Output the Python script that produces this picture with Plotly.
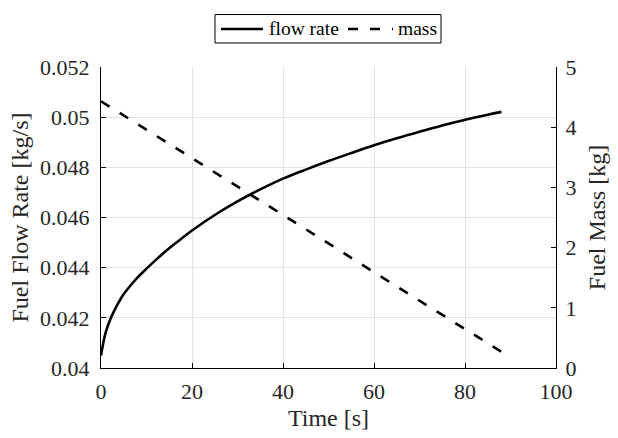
import plotly.graph_objects as go

# Flow rate (kg/s) vs time (s)
t_flow = [0, 1, 2, 3, 4, 5, 6, 8, 10, 12, 14, 16, 18, 20, 25, 30, 35, 40, 45,
          50, 55, 60, 65, 70, 75, 80, 85, 88]
flow = [0.04050, 0.04140, 0.04192, 0.04232, 0.04266, 0.04295, 0.04318, 0.04360,
        0.04396, 0.04430, 0.04462, 0.04492, 0.04520, 0.04548, 0.04610, 0.04664,
        0.04712, 0.04755, 0.04791, 0.04825, 0.04857, 0.04888, 0.04916, 0.04942,
        0.04967, 0.04990, 0.05010, 0.05021]

# Fuel mass (kg) vs time (s)
t_mass = [0, 10, 20, 30, 40, 50, 60, 70, 80, 88]
mass = [4.43, 3.96, 3.49, 3.01, 2.54, 2.07, 1.59, 1.12, 0.65, 0.27]

x_ticks = [0, 20, 40, 60, 80, 100]
y1_ticks = [0.04, 0.042, 0.044, 0.046, 0.048, 0.05, 0.052]
y1_labels = ["0.04", "0.042", "0.044", "0.046", "0.048", "0.05", "0.052"]
y2_ticks = [0, 1, 2, 3, 4, 5]

legend_names = ["flow rate", "mass"]

FONT = "Liberation Serif, Times New Roman, serif"
TICKC = "#262626"
W, H = 618, 438
ML, MR, MT, MB = 101, 62, 67, 64
PW, PH = W - ML - MR, H - MT - MB


def px(x):
    return (x - ML) / PW


def py(y):
    return (H - MB - y) / PH


fig = go.Figure()
fig.add_trace(go.Scatter(x=t_flow, y=flow, mode="lines", name=legend_names[0],
                         line=dict(color="black", width=2.6, shape="spline", smoothing=1.0),
                         yaxis="y", showlegend=False))
fig.add_trace(go.Scatter(x=t_mass, y=mass, mode="lines", name=legend_names[1],
                         line=dict(color="black", width=2.6, dash="10px,12px"),
                         yaxis="y2", showlegend=False))

axis_common = dict(showline=True, linecolor="black", linewidth=1,
                   ticks="inside", ticklen=5, tickcolor="black",
                   tickfont=dict(family=FONT, size=22, color=TICKC),
                   zeroline=False, mirror=False)

# custom legend (box, line samples, labels)
shapes = [
    dict(type="rect", xref="paper", yref="paper", x0=px(215), x1=px(441), y0=py(42.5), y1=py(13.5),
         line=dict(color="black", width=1), fillcolor="white"),
    dict(type="line", xref="paper", yref="paper", x0=px(221), x1=px(263), y0=py(28.3), y1=py(28.3),
         line=dict(color="black", width=2.6)),
    dict(type="line", xref="paper", yref="paper", x0=px(348), x1=px(393), y0=py(28.3), y1=py(28.3),
         line=dict(color="black", width=2.6, dash="10px,12px")),
]
annotations = [
    dict(text=legend_names[0], xref="paper", yref="paper", x=px(267), y=py(28), xanchor="left",
         yanchor="middle", showarrow=False, font=dict(family=FONT, size=19.5, color="black")),
    dict(text=legend_names[1], xref="paper", yref="paper", x=px(396), y=py(28), xanchor="left",
         yanchor="middle", showarrow=False, font=dict(family=FONT, size=19.5, color="black")),
]

fig.update_layout(
    width=W, height=H,
    margin=dict(l=ML, r=MR, t=MT, b=MB),
    paper_bgcolor="white", plot_bgcolor="white",
    font=dict(family=FONT, color=TICKC),
    showlegend=False,
    shapes=shapes, annotations=annotations,
    xaxis=dict(range=[0, 100], tickvals=x_ticks,
               showgrid=True, gridcolor="#e3e3e3", gridwidth=1, ticklabelstandoff=4,
               title=dict(text="Time [s]", font=dict(family=FONT, size=24, color=TICKC), standoff=5),
               **axis_common),
    yaxis=dict(range=[0.04, 0.052], tickvals=y1_ticks, ticktext=y1_labels,
               showgrid=True, gridcolor="#e3e3e3", gridwidth=1, ticklabelstandoff=6,
               title=dict(text="Fuel Flow Rate [kg/s]", font=dict(family=FONT, size=24, color=TICKC), standoff=4),
               **axis_common),
    yaxis2=dict(range=[0, 5], tickvals=y2_ticks, overlaying="y", side="right",
                showgrid=False, ticklabelstandoff=4,
                title=dict(text="Fuel Mass [kg]", font=dict(family=FONT, size=24, color=TICKC), standoff=12),
                **axis_common),
)

fig.write_html("out.html")
